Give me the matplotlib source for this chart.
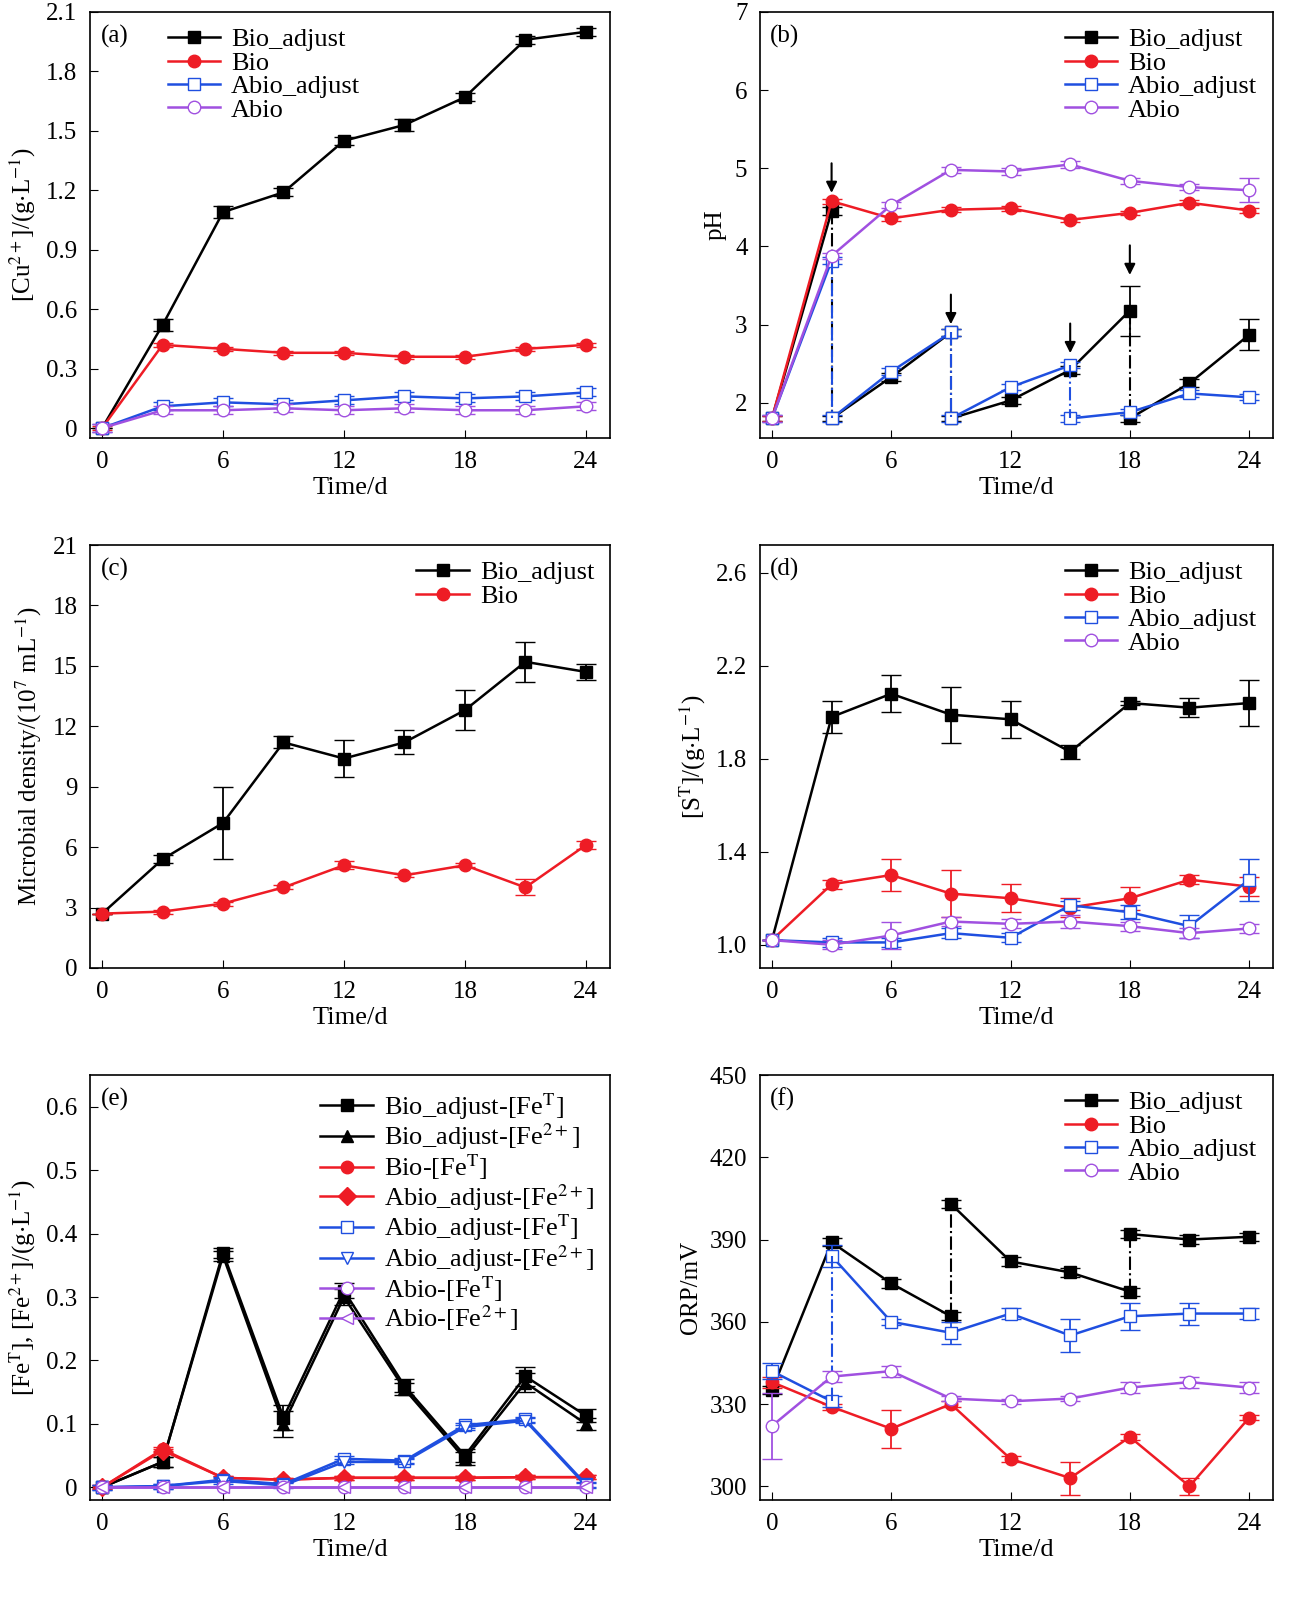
import numpy as np
import matplotlib
matplotlib.use("Agg")
import matplotlib.pyplot as plt

plt.rcParams['font.family'] = ['Liberation Serif', 'DejaVu Serif']
plt.rcParams['mathtext.fontset'] = 'stix'
FS = 18

t = [0, 3, 6, 9, 12, 15, 18, 21, 24]
BLK, RED, BLU, PUR = 'black', '#ee1c25', '#1f4fe0', '#a050e0'

# (a) Cu
cu_bio_adj = [0, 0.52, 1.09, 1.19, 1.45, 1.53, 1.67, 1.96, 2.00]
cu_bio_adj_err = [0, 0.03, 0.03, 0.02, 0.02, 0.03, 0.02, 0.02, 0.02]
cu_bio = [0, 0.42, 0.40, 0.38, 0.38, 0.36, 0.36, 0.40, 0.42]
cu_abio_adj = [0, 0.11, 0.13, 0.12, 0.14, 0.16, 0.15, 0.16, 0.18]
cu_abio = [0, 0.09, 0.09, 0.10, 0.09, 0.10, 0.09, 0.09, 0.11]

# (b) pH (segments between adjustments)
ph_bio_adj_t = [[0, 3], [3, 6, 9], [9, 12, 15, 18], [18, 21, 24]]
ph_bio_adj = [[1.8, 4.45], [1.8, 2.33, 2.9], [1.8, 2.03, 2.42, 3.18], [1.8, 2.25, 2.87]]
ph_bio_adj_err = [[0.03, 0.05], [0.03, 0.05, 0.05], [0.03, 0.04, 0.05, 0.32], [0.05, 0.05, 0.2]]
ph_abio_adj_t = [[0, 3], [3, 6, 9], [9, 12, 15], [15, 18, 21, 24]]
ph_abio_adj = [[1.8, 3.82], [1.8, 2.4, 2.9], [1.8, 2.2, 2.48], [1.8, 1.88, 2.12, 2.07]]
ph_bio = [1.8, 4.58, 4.36, 4.47, 4.49, 4.34, 4.43, 4.56, 4.46]
ph_abio = [1.8, 3.88, 4.53, 4.98, 4.96, 5.05, 4.84, 4.76, 4.72]
ph_arrows_t = [3, 9, 15, 18]
ph_arrows_y = [4.65, 2.97, 2.6, 3.6]

# (c) microbial density
md_bio_adj = [2.7, 5.4, 7.2, 11.2, 10.4, 11.2, 12.8, 15.2, 14.7]
md_bio_adj_err = [0, 0.2, 1.8, 0.3, 0.9, 0.6, 1.0, 1.0, 0.4]
md_bio = [2.7, 2.8, 3.2, 4.0, 5.1, 4.6, 5.1, 4.0, 6.1]
md_bio_err = [0, 0.1, 0.1, 0.1, 0.2, 0.1, 0.1, 0.4, 0.2]

# (d) S_T
s_bio_adj = [1.02, 1.98, 2.08, 1.99, 1.97, 1.83, 2.04, 2.02, 2.04]
s_bio_adj_err = [0, 0.07, 0.08, 0.12, 0.08, 0.03, 0.01, 0.04, 0.1]
s_bio = [1.02, 1.26, 1.30, 1.22, 1.20, 1.16, 1.20, 1.28, 1.25]
s_bio_err = [0, 0.02, 0.07, 0.1, 0.06, 0.04, 0.05, 0.02, 0.04]
s_abio_adj = [1.02, 1.01, 1.01, 1.05, 1.03, 1.17, 1.14, 1.08, 1.28]
s_abio_adj_err = [0, 0.02, 0.02, 0.02, 0.02, 0.02, 0.03, 0.05, 0.09]
s_abio = [1.02, 1.00, 1.04, 1.10, 1.09, 1.10, 1.08, 1.05, 1.07]
s_abio_err = [0, 0.02, 0.06, 0.02, 0.02, 0.03, 0.02, 0.02, 0.02]

# (e) Fe
fe_bio_adj_T = [0, 0.04, 0.37, 0.11, 0.31, 0.16, 0.05, 0.175, 0.113]
fe_bio_adj_2 = [0, 0.04, 0.365, 0.10, 0.30, 0.155, 0.045, 0.165, 0.10]
fe_bio_adj_err = [0, 0.008, 0.008, 0.02, 0.012, 0.01, 0.01, 0.015, 0.01]
fe_bio_T = [0, 0.06, 0.015, 0.012, 0.015, 0.015, 0.015, 0.016, 0.016]
fe_abio_adj_2_red = [0, 0.058, 0.015, 0.012, 0.015, 0.015, 0.015, 0.016, 0.016]
fe_abio_adj_T = [0, 0.002, 0.012, 0.005, 0.045, 0.042, 0.098, 0.107, 0.005]
fe_abio_adj_2 = [0, 0.002, 0.010, 0.003, 0.040, 0.040, 0.095, 0.105, 0.003]
fe_abio_T = [0, 0, 0, 0, 0, 0, 0, 0, 0]
fe_abio_2 = [0, 0, 0, 0, 0, 0, 0, 0, 0]

# (f) ORP
orp_bio_adj_t = [[0, 3, 6, 9], [9, 12, 15, 18], [18, 21, 24]]
orp_bio_adj = [[335, 389, 374, 362], [403, 382, 378, 371], [392, 390, 391]]
orp_abio_adj_t = [[0, 3], [3, 6, 9, 12, 15, 18, 21, 24]]
orp_abio_adj = [[342, 331], [384, 360, 356, 363, 355, 362, 363, 363]]
orp_abio_adj_err = [[3, 2], [4, 1, 4, 2, 6, 5, 4, 2]]
orp_bio = [338, 329, 321, 330, 310, 303, 318, 300, 325]
orp_bio_err = [2, 1, 7, 1, 1, 6, 1, 3, 1]
orp_abio = [322, 340, 342, 332, 331, 332, 336, 338, 336]
orp_abio_err = [12, 2, 2, 1, 1, 1, 2, 2, 2]

fig = plt.figure(figsize=(13.01, 16), dpi=100)
W, H = 1301, 1600
def ax_at(x0, y0, x1, y1):
    return fig.add_axes([x0 / W, 1 - y1 / H, (x1 - x0) / W, (y1 - y0) / H])

ms = 9
def line(ax, x, y, c, m, fill=True, err=None, label=None, ls='-'):
    kw = dict(color=c, marker=m, ms=ms, lw=1.8, ls=ls,
              mfc=c if fill else 'white', mec=c)
    if err is not None:
        ax.errorbar(x, y, yerr=err, fmt='none', ecolor=c, capsize=7, elinewidth=1.3)
    ax.plot(x, y, label=label, **kw)

def style(ax, letter, ylabel, ylim, yticks, yfmt):
    ax.set_xlim(-0.6, 25.2)
    ax.set_ylim(*ylim)
    ax.set_xticks([0, 6, 12, 18, 24])
    ax.set_xticks([3, 9, 15, 21], minor=True)
    ax.set_yticks(yticks)
    ax.set_yticklabels([yfmt(v) for v in yticks])
    ax.tick_params(which='both', direction='in', labelsize=FS, length=6, pad=9)
    ax.tick_params(which='minor', length=0)
    ax.set_xlabel('Time/d', fontsize=FS + 1, labelpad=3)
    ax.set_ylabel(ylabel, fontsize=FS, labelpad=6)
    ax.text(0.02, 0.97, letter, transform=ax.transAxes, fontsize=FS, va='top')
    for s in ax.spines.values():
        s.set_linewidth(1.2)

def leg(ax, **kw):
    ax.legend(loc='upper right', frameon=False, fontsize=FS + 1, handlelength=2.0,
              handletextpad=0.4, labelspacing=0.0, borderaxespad=0.2, **kw)

# (a)
ax = ax_at(90, 12, 610, 438)
line(ax, t, cu_bio_adj, BLK, 's', err=cu_bio_adj_err, label='Bio_adjust')
line(ax, t, cu_bio, RED, 'o', err=[0.01]*9, label='Bio')
line(ax, t, cu_abio_adj, BLU, 's', False, err=[0.02]*9, label='Abio_adjust')
line(ax, t, cu_abio, PUR, 'o', False, err=[0.02]*9, label='Abio')
style(ax, '(a)', r'[Cu$^{2+}$]/(g$\cdot$L$^{-1}$)', (-0.05, 2.1),
      [0, 0.3, 0.6, 0.9, 1.2, 1.5, 1.8, 2.1], lambda v: '0' if v == 0 else f'{v:.1f}')
leg(ax, bbox_to_anchor=(0.55, 1.0))

# (b)
ax = ax_at(760, 12, 1273, 438)
for i, (xs, ys) in enumerate(zip(ph_bio_adj_t, ph_bio_adj)):
    line(ax, xs, ys, BLK, 's', err=ph_bio_adj_err[i], label='Bio_adjust' if i == 0 else None)
for i in range(len(ph_bio_adj) - 1):
    xj = ph_bio_adj_t[i][-1]
    ax.plot([xj, xj], [ph_bio_adj[i][-1], ph_bio_adj[i + 1][0]], color=BLK, ls='-.', lw=1.5)
line(ax, t, ph_bio, RED, 'o', err=[0.03]*9, label='Bio')
for i, (xs, ys) in enumerate(zip(ph_abio_adj_t, ph_abio_adj)):
    line(ax, xs, ys, BLU, 's', False, err=[0.04]*len(xs), label='Abio_adjust' if i == 0 else None)
for i in range(len(ph_abio_adj) - 1):
    xj = ph_abio_adj_t[i][-1]
    ax.plot([xj, xj], [ph_abio_adj[i][-1], ph_abio_adj[i + 1][0]], color=BLU, ls='-.', lw=1.5)
line(ax, t, ph_abio, PUR, 'o', False, err=[0.04]*8 + [0.15], label='Abio')
for xa, ya in zip(ph_arrows_t, ph_arrows_y):
    ax.annotate('', xy=(xa, ya), xytext=(xa, ya + 0.45),
                arrowprops=dict(arrowstyle='-|>', color='black', lw=1.5, mutation_scale=16))
style(ax, '(b)', 'pH', (1.55, 7.0), [2, 3, 4, 5, 6, 7], lambda v: f'{v:g}')
leg(ax)

# (c)
ax = ax_at(90, 545, 610, 968)
line(ax, t, md_bio_adj, BLK, 's', err=md_bio_adj_err, label='Bio_adjust')
line(ax, t, md_bio, RED, 'o', err=md_bio_err, label='Bio')
style(ax, '(c)', r'Microbial density/(10$^{7}$ mL$^{-1}$)', (0, 21),
      [0, 3, 6, 9, 12, 15, 18, 21], lambda v: f'{v:g}')
leg(ax)

# (d)
ax = ax_at(760, 545, 1273, 968)
line(ax, t, s_bio_adj, BLK, 's', err=s_bio_adj_err, label='Bio_adjust')
line(ax, t, s_bio, RED, 'o', err=s_bio_err, label='Bio')
line(ax, t, s_abio_adj, BLU, 's', False, err=s_abio_adj_err, label='Abio_adjust')
line(ax, t, s_abio, PUR, 'o', False, err=s_abio_err, label='Abio')
style(ax, '(d)', r'[S$^{\mathrm{T}}$]/(g$\cdot$L$^{-1}$)', (0.9, 2.72),
      [1.0, 1.4, 1.8, 2.2, 2.6], lambda v: f'{v:.1f}')
leg(ax)

# (e)
ax = ax_at(90, 1075, 610, 1500)
line(ax, t, fe_bio_adj_T, BLK, 's', err=fe_bio_adj_err, label=r'Bio_adjust-[Fe$^{\mathrm{T}}$]')
line(ax, t, fe_bio_adj_2, BLK, '^', err=fe_bio_adj_err, label=r'Bio_adjust-[Fe$^{2+}$]')
line(ax, t, fe_bio_T, RED, 'o', err=[0.003]*9, label=r'Bio-[Fe$^{\mathrm{T}}$]')
line(ax, t, fe_abio_adj_2_red, RED, 'D', err=[0.003]*9, label=r'Abio_adjust-[Fe$^{2+}$]')
line(ax, t, fe_abio_adj_T, BLU, 's', False, err=[0.004]*9, label=r'Abio_adjust-[Fe$^{\mathrm{T}}$]')
line(ax, t, fe_abio_adj_2, BLU, 'v', False, err=[0.004]*9, label=r'Abio_adjust-[Fe$^{2+}$]')
line(ax, t, fe_abio_T, PUR, 'o', False, label=r'Abio-[Fe$^{\mathrm{T}}$]')
line(ax, t, fe_abio_2, PUR, '<', False, label=r'Abio-[Fe$^{2+}$]')
style(ax, '(e)', r'[Fe$^{\mathrm{T}}$], [Fe$^{2+}$]/(g$\cdot$L$^{-1}$)', (-0.02, 0.65),
      [0, 0.1, 0.2, 0.3, 0.4, 0.5, 0.6], lambda v: '0' if v == 0 else f'{v:.1f}')
leg(ax)

# (f)
ax = ax_at(760, 1075, 1273, 1500)
for i, (xs, ys) in enumerate(zip(orp_bio_adj_t, orp_bio_adj)):
    line(ax, xs, ys, BLK, 's', err=[1.5]*len(xs), label='Bio_adjust' if i == 0 else None)
for i in range(len(orp_bio_adj) - 1):
    xj = orp_bio_adj_t[i][-1]
    ax.plot([xj, xj], [orp_bio_adj[i][-1], orp_bio_adj[i + 1][0]], color=BLK, ls='-.', lw=1.5)
line(ax, t, orp_bio, RED, 'o', err=orp_bio_err, label='Bio')
for i, (xs, ys) in enumerate(zip(orp_abio_adj_t, orp_abio_adj)):
    line(ax, xs, ys, BLU, 's', False, err=orp_abio_adj_err[i], label='Abio_adjust' if i == 0 else None)
for i in range(len(orp_abio_adj) - 1):
    xj = orp_abio_adj_t[i][-1]
    ax.plot([xj, xj], [orp_abio_adj[i][-1], orp_abio_adj[i + 1][0]], color=BLU, ls='-.', lw=1.5)
line(ax, t, orp_abio, PUR, 'o', False, err=orp_abio_err, label='Abio')
style(ax, '(f)', 'ORP/mV', (295, 450), [300, 330, 360, 390, 420, 450], lambda v: f'{v:g}')
leg(ax)

fig.savefig('out.png', dpi=100)
